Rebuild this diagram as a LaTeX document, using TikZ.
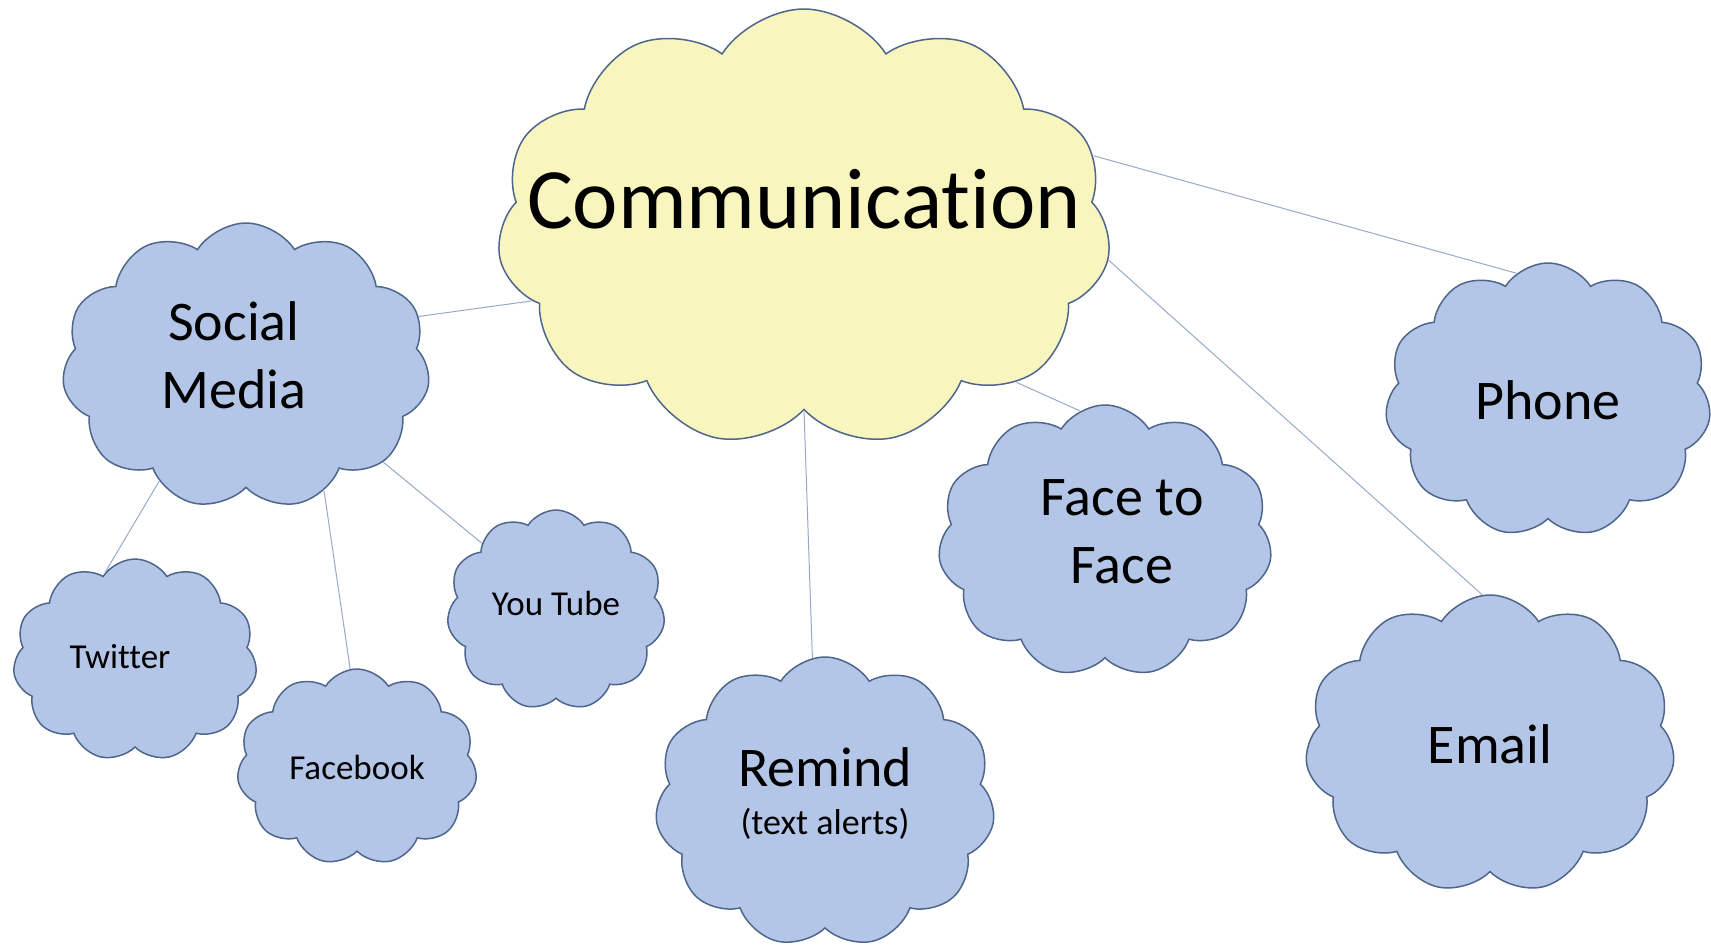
\documentclass[tikz,border=0pt]{standalone}
\usepackage{fontspec}
\setmainfont[Ligatures=NoCommon]{Carlito}
\usetikzlibrary{shapes.symbols}

\definecolor{cloudyellow}{RGB}{248,246,190}
\definecolor{cloudblue}{RGB}{180,198,231}
\definecolor{cloudedge}{RGB}{78,102,140}
\definecolor{linkgray}{RGB}{150,170,200}

\tikzset{
  bubble/.style={cloud, cloud puffs=11, cloud puff arc=115, cloud ignores aspect,
    draw=cloudedge, line width=0.75pt, fill=cloudblue, align=center, inner sep=0pt},
  bigtext/.style={font=\fontsize{28}{34}\selectfont},
  smalltext/.style={font=\fontsize{17.5}{21}\selectfont},
  link/.style={draw=linkgray, line width=0.5pt}
}

\begin{document}
\begin{tikzpicture}[x=0.5pt, y=-0.5pt]
  \useasboundingbox (0,0) rectangle (1711,947);
  \draw
    (804,228) node[bubble, fill=cloudyellow, minimum width=307pt, minimum height=219pt,
      font=\fontsize{43}{50}\selectfont, text depth=29pt] (comm) {\makebox[0pt]{Communication}}
    (246,366) node[bubble, bigtext, minimum width=184pt, minimum height=143pt, text depth=11pt] (social)
      {Social\hspace*{12pt}\\Media\hspace*{12pt}}
    (135,660) node[bubble, smalltext, minimum width=122pt, minimum height=101pt, text depth=4pt] (twitter)
      {Twitter\hspace*{15pt}}
    (357,767) node[bubble, smalltext, minimum width=120pt, minimum height=98pt] (facebook) {Facebook}
    (556,610) node[bubble, smalltext, minimum width=109pt, minimum height=100pt, text depth=6.5pt] (youtube)
      {You Tube}
    (825,802) node[bubble, bigtext, minimum width=170pt, minimum height=145pt, text depth=11pt] (remind)
      {Remind\\[-10pt]{\fontsize{18}{21}\selectfont (text alerts)}}
    (1105,541) node[bubble, bigtext, minimum width=167pt, minimum height=136pt, text depth=9pt] (face)
      {\hspace*{17pt}Face to\\\hspace*{17pt}Face}
    (1548,400) node[bubble, bigtext, minimum width=163pt, minimum height=137pt] (phone) {Phone}
    (1490,744) node[bubble, bigtext, minimum width=185pt, minimum height=149pt] (email) {Email};
  \begin{scope}[link]
    \draw (comm.195) to (social.16);
    \draw (comm.14) to (phone.104);
    \draw (comm.-6) to (email.93);
    \draw (comm.-36) to (face.101);
    \draw (comm.-90) to (remind.95);
    \draw (social.233) to (twitter.109);
    \draw (social.-58) to (facebook.94);
    \draw (social.-35) to (youtube.138);
  \end{scope}
\end{tikzpicture}
\end{document}
